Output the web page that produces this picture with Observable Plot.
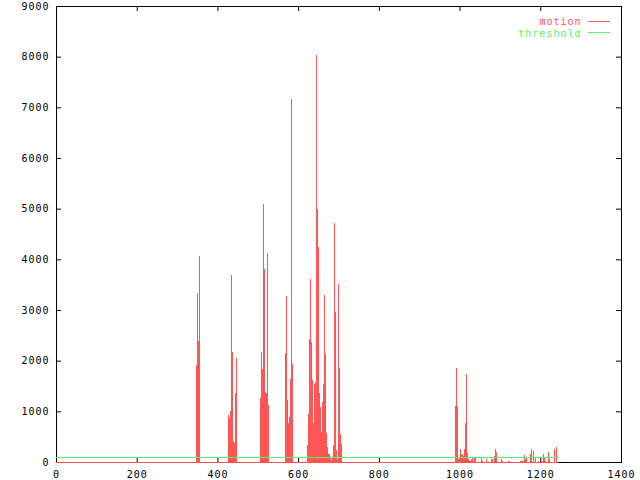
<!DOCTYPE html>
<html><head><meta charset="utf-8">
<script src="https://cdn.jsdelivr.net/npm/d3@7"></script>
<script src="https://cdn.jsdelivr.net/npm/@observablehq/plot@0.6"></script>
<style>
body{margin:0;background:#fff}
#chart svg{display:block}
#chart svg text{letter-spacing:1px}
</style>
</head><body><div id="chart"></div>
<script>
// frame numbers with motion above zero (all other frames are 0)
const frames = [
  348,350,352,355,
  427,429,432,434,437,439,442,444,447,
  506,509,511,514,516,519,521,524,526,
  568,571,573,576,578,581,583,586,
  623,626,628,631,633,636,638,641,643,646,648,651,653,656,658,661,663,665,668,670,673,675,678,680,683,685,688,690,693,695,698,700,702,705,707,
  990,993,995,998,1000,1003,1005,1008,1010,1013,1015,1018,1020,1023,1025,1028,1030,1033,1035,1038,1040,
  1055,1057,1067,1080,1082,1087,1090,1092,1105,1107,1122,1124,1152,1154,1157,1159,1162,1164,1167,1177,1179,1182,1184,1187,1196,1206,1209,1211,1214,1221,1224,1236,1239,1241
];
const motion = [
  1915,3340,2390,4070,
  934,868,1000,3697,2171,414,381,1360,2059,
  1263,2171,1829,5092,3809,1382,1368,4125,1131,
  2145,3277,1224,763,888,1645,7165,1934,
  336,941,2428,3612,2362,1612,770,1533,1572,8033,4993,4243,1362,1086,599,1191,1546,3296,2138,572,296,164,164,85,33,99,336,4717,2967,243,60,3507,1849,546,362,
  1105,1855,1105,60,40,263,145,158,120,263,776,1737,184,66,40,26,66,92,13,80,80,
  80,13,66,66,66,118,250,197,66,26,26,26,26,26,26,26,145,66,105,158,263,224,66,105,26,26,158,105,26,197,66,263,302,105
];
const firstFrame = 0;
const lastFrame = 1245;
const threshold = 100;
const xTicks = [0,200,400,600,800,1000,1200,1400];
const yTicks = [0,1000,2000,3000,4000,5000,6000,7000,8000,9000];
const seriesNames = ["motion","threshold"];

const red = "#ff5555", green = "#5ef05e";
const W = 640, H = 480, mL = 56, mR = 19, mT = 6, mB = 18;
const plotW = W - mL - mR, plotH = H - mT - mB;
const font = "DejaVu Sans Mono";
const halfStep = 1.25; // each reading covers about one pixel column (≈2.5 frames)

const data = frames.map((f, i) => ({frame: f, value: motion[i]}));
const fmt = d => `${d}`;

const chart = Plot.plot({
  width: W, height: H,
  marginLeft: mL, marginRight: mR, marginTop: mT, marginBottom: mB,
  style: {fontFamily: font, fontSize: "10px", background: "white", color: "black"},
  x: {domain: [0, 1400]},
  y: {domain: [0, 9000]},
  marks: [
    Plot.frame({stroke: "black"}),
    Plot.ruleX(xTicks, {x: d => d, insetTop: plotH - 5, stroke: "black"}),
    Plot.ruleX(xTicks, {x: d => d, insetBottom: plotH - 5, stroke: "black"}),
    Plot.ruleY(yTicks, {y: d => d, insetRight: plotW - 5, stroke: "black"}),
    Plot.ruleY(yTicks, {y: d => d, insetLeft: plotW - 5, stroke: "black"}),
    Plot.axisX(xTicks, {tickSize: 0, tickPadding: 8, label: null, tickFormat: fmt, fill: "black"}),
    Plot.axisY(yTicks, {tickSize: 0, tickPadding: 7, label: null, tickFormat: fmt, fill: "black"}),
    Plot.rectY(data, {x1: d => d.frame - halfStep, x2: d => d.frame + halfStep, y1: 0, y2: "value", fill: red, shapeRendering: "crispEdges"}),
    Plot.ruleY([0], {x1: firstFrame, x2: lastFrame, stroke: red, shapeRendering: "crispEdges"}),
    Plot.ruleY([threshold], {x1: firstFrame, x2: lastFrame, stroke: green, shapeRendering: "crispEdges"}),
    Plot.text([seriesNames[0]], {text: d => d, frameAnchor: "top-right", textAnchor: "end", lineAnchor: "middle", dx: -40, dy: 15.5, fill: red}),
    Plot.text([seriesNames[1]], {text: d => d, frameAnchor: "top-right", textAnchor: "end", lineAnchor: "middle", dx: -40, dy: 27, fill: green})
  ]
});

// legend line samples
const sv = d3.select(chart);
[[red, 21.5], [green, 32.5]].forEach(([c, y]) => {
  sv.append("line")
    .attr("x1", W - mR - 33).attr("x2", W - mR - 11)
    .attr("y1", y).attr("y2", y)
    .attr("stroke", c).attr("stroke-width", 1)
    .attr("shape-rendering", "crispEdges");
});

document.getElementById("chart").append(chart);
</script>
</body></html>
